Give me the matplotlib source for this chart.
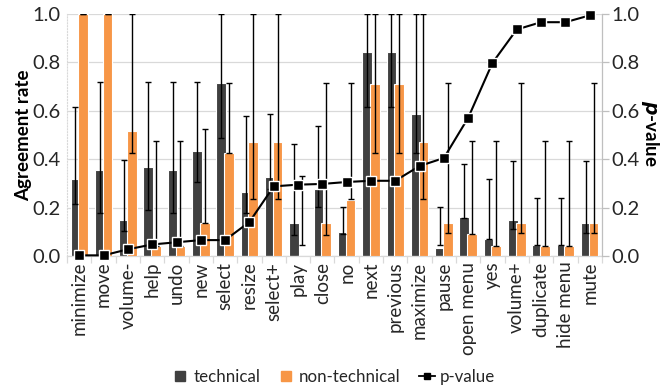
import numpy as np
import matplotlib
matplotlib.use("Agg")
import matplotlib.pyplot as plt
from matplotlib.lines import Line2D

plt.rcParams['font.family'] = ['Lato', 'DejaVu Sans']

categories = ["minimize", "move", "volume-", "help", "undo", "new", "select",
              "resize", "select+", "play", "close", "no", "next", "previous",
              "maximize", "pause", "open menu", "yes", "volume+", "duplicate",
              "hide menu", "mute"]

technical = [0.317, 0.355, 0.149, 0.367, 0.355, 0.432, 0.714, 0.265, 0.328,
             0.136, 0.277, 0.098, 0.844, 0.844, 0.586, 0.032, 0.160, 0.070,
             0.149, 0.045, 0.045, 0.136]
technical_lo = [0.215, 0.177, 0.102, 0.189, 0.177, 0.306, 0.487, 0.177, 0.275,
                0.088, 0.203, 0.091, 0.614, 0.614, 0.426, 0.047, 0.156, 0.070,
                0.112, 0.045, 0.045, 0.094]
technical_hi = [0.614, 0.718, 0.396, 0.718, 0.718, 0.718, 1.000, 0.578, 0.588,
                0.462, 0.539, 0.204, 1.000, 1.000, 1.000, 0.201, 0.382, 0.318,
                0.394, 0.241, 0.241, 0.394]

non_technical = [1.000, 1.000, 0.518, 0.041, 0.041, 0.138, 0.425, 0.472, 0.472,
                 0.000, 0.136, 0.232, 0.710, 0.710, 0.472, 0.136, 0.091, 0.041,
                 0.136, 0.041, 0.041, 0.136]
non_technical_lo = [1.000, 1.000, 0.426, 0.041, 0.041, 0.138, 0.425, 0.236, 0.236,
                    0.044, 0.088, 0.234, 0.426, 0.426, 0.236, 0.094, 0.091, 0.041,
                    0.094, 0.041, 0.041, 0.094]
non_technical_hi = [1.000, 1.000, 1.000, 0.474, 0.474, 0.523, 0.713, 1.000, 1.000,
                    0.331, 0.713, 0.713, 1.000, 1.000, 1.000, 0.713, 0.474, 0.474,
                    0.713, 0.474, 0.474, 0.713]

p_value = [0.003, 0.003, 0.028, 0.048, 0.057, 0.066, 0.066, 0.141, 0.288,
           0.295, 0.298, 0.306, 0.311, 0.311, 0.372, 0.405, 0.571, 0.798,
           0.936, 0.966, 0.966, 0.994]

y_ticks = [0.0, 0.2, 0.4, 0.6, 0.8, 1.0]

DARK = "#404040"
ORANGE = "#F79646"
GRID = "#D9D9D9"
TEXT = "#262626"
FS = 13.5

fig = plt.figure(figsize=(6.65, 3.88), dpi=100)
ax = fig.add_axes([0.101, 0.34, 0.804, 0.624])

x = np.arange(len(categories))
off = 0.16
w = 0.40

ax.bar(x - off, technical, w, color=DARK, edgecolor="white", linewidth=0.8, zorder=2)
ax.bar(x + off, non_technical, w, color=ORANGE, edgecolor="white", linewidth=0.8, zorder=3)


def ci(lo, hi):
    lo = np.asarray(lo)
    hi = np.asarray(hi)
    return (lo + hi) / 2, (hi - lo) / 2


mid_t, half_t = ci(technical_lo, technical_hi)
mid_n, half_n = ci(non_technical_lo, non_technical_hi)
ax.errorbar(x - off, mid_t, yerr=half_t, fmt="none", ecolor="black",
            elinewidth=1.0, capsize=2, capthick=1.0, zorder=4)
ax.errorbar(x + off, mid_n, yerr=half_n, fmt="none", ecolor="black",
            elinewidth=1.0, capsize=2, capthick=1.0, zorder=4)

ax.set_xlim(-0.5, len(categories) - 0.5)
ax.set_ylim(0, 1.0)
ax.set_yticks(y_ticks)
ax.set_yticklabels([f"{v:.1f}" for v in y_ticks], fontsize=14.5, color=TEXT)
ax.yaxis.grid(True, color=GRID, linewidth=0.9, zorder=0)
ax.set_axisbelow(True)
ax.tick_params(axis="y", length=0, pad=5)

ax.set_xticks(x)
ax.set_xticklabels(categories, rotation=90, fontsize=FS, color=TEXT)
ax.tick_params(axis="x", length=0, pad=4)
ax.set_xticks(np.arange(-0.5, len(categories)), minor=True)
ax.tick_params(axis="x", which="minor", length=5, color=GRID, width=0.9)

for s in ["top", "right"]:
    ax.spines[s].set_visible(False)
ax.spines["left"].set_color(GRID)
ax.spines["left"].set_linestyle(":")
ax.spines["bottom"].set_color(GRID)
ax.spines["bottom"].set_linewidth(0.9)

# left-hand axis title
fig.text(24 / 665, 1 - 135 / 388, "Agreement rate", fontsize=13.5,
         fontweight="bold", rotation=90, ha="center", va="center", color="black")

ax2 = ax.twinx()
ax2.plot(x, p_value, color="black", linewidth=1.5, marker="s", markersize=7,
         markerfacecolor="black", markeredgecolor="white", markeredgewidth=1.0,
         zorder=5, clip_on=False)
ax2.set_ylim(0, 1.0)
ax2.set_yticks(y_ticks)
ax2.set_yticklabels([f"{v:.1f}" for v in y_ticks], fontsize=14.5, color=TEXT)
ax2.tick_params(axis="y", length=5, color="#BFBFBF", width=0.9, pad=2)
for s in ["top", "left", "bottom"]:
    ax2.spines[s].set_visible(False)
ax2.spines["right"].set_color("#BFBFBF")
ax2.spines["right"].set_linewidth(0.9)

# right-hand axis title, placed beside the tick labels
fig.text(650 / 665, 1 - 133 / 388, r"$\bfit{p}$" + "-value", fontsize=13.5,
         fontweight="bold", rotation=-90, ha="center", va="center", color="black")

handles = [
    Line2D([0], [0], marker="s", linestyle="none", markersize=7,
           markerfacecolor=DARK, markeredgecolor=DARK),
    Line2D([0], [0], marker="s", linestyle="none", markersize=7,
           markerfacecolor=ORANGE, markeredgecolor=ORANGE),
    Line2D([0], [0], color="black", linewidth=1.3, marker="s", markersize=4,
           markerfacecolor="black", markeredgecolor="black"),
]
fig.legend(handles, ["technical", "non-technical", "p-value"],
           loc="center", bbox_to_anchor=(0.502, 0.028), ncol=3, frameon=False,
           fontsize=12.2, handlelength=0.9, handletextpad=0.3, columnspacing=1.1,
           labelcolor=TEXT)

fig.savefig("out.png", dpi=100)
